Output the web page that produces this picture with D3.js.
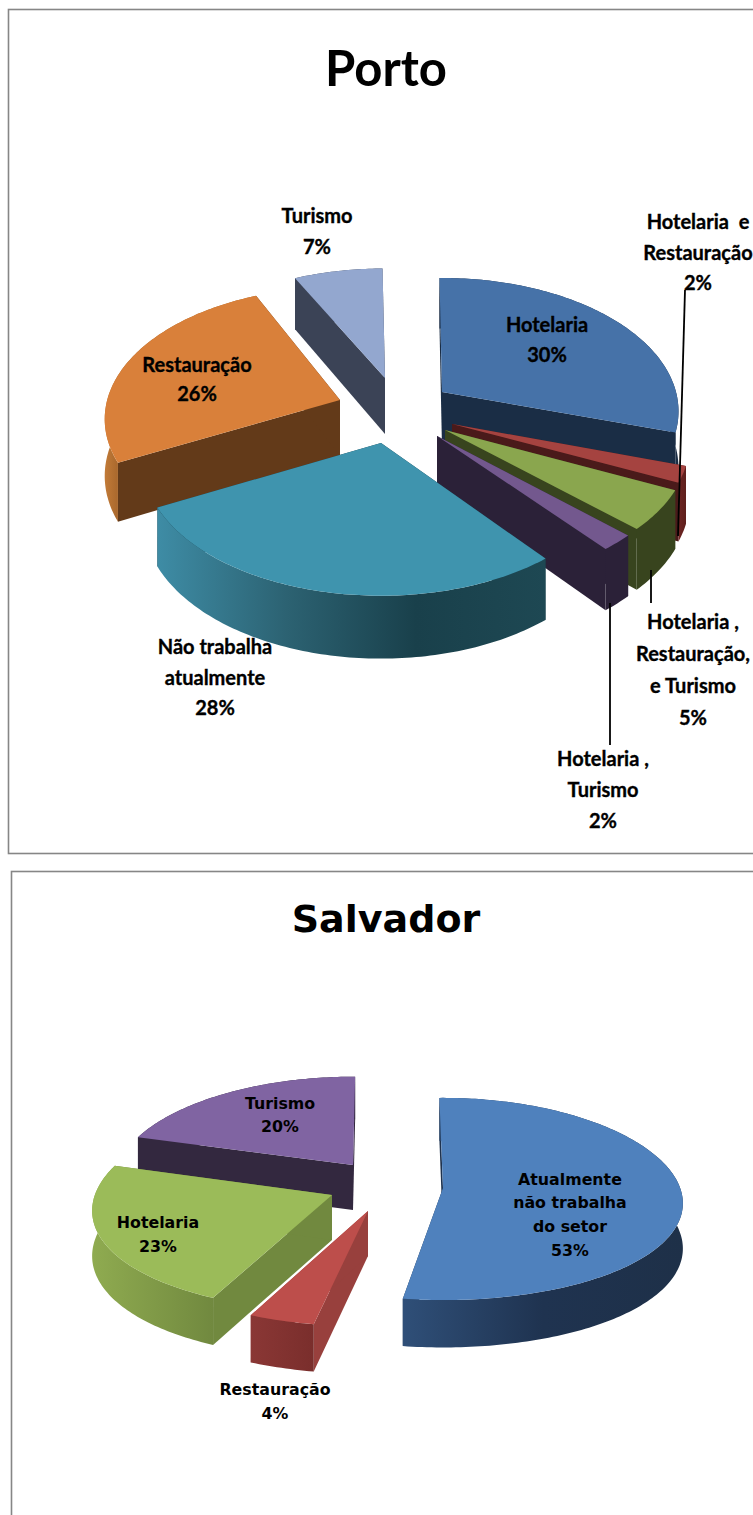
<!DOCTYPE html>
<html><head><meta charset="utf-8">
<script src="https://cdn.jsdelivr.net/npm/d3@7/dist/d3.min.js"></script>
<style>html,body{margin:0;padding:0;background:#fff}svg{display:block}</style>
</head><body>
<div id="chart"></div>
<script>
// ---- data ----
const portoCategories = ["Hotelaria","Hotelaria  e|Restauração","Hotelaria ,|Restauração,|e Turismo","Hotelaria ,|Turismo","Não trabalha|atualmente","Restauração","Turismo"];
const portoValues = [30,2,5,2,28,26,7];
const salvadorCategories = ["Atualmente|não trabalha|do setor","Restauração","Hotelaria","Turismo"];
const salvadorValues = [53,4,23,20];

// ---- layout / style (separate from data) ----
const deg = Math.PI/180;
const porto = {
  title:"Porto", titleX:386, titleY:86, titleSize:49, titleFont:"Lato, sans-serif",
  font:"Lato, sans-serif", size:20, weightStroke:.35, R:240, A:128, Bx:.145, By:.145, D:56, k:.11, rot:-0.7,
  cats:portoCategories, vals:portoValues,
  apex:[[442,392],[452,424],[445,430],[437,436],[381,443],[340,400],[385,378]],
  sx:[.975,.98,1,1,.98,.97,.97], sy:[1.02,1,1,1,1.02,1.01,.98],
  pad:[[0,0],[1,1],[1.6,1.6],[1.8,1.8],[2,2],[2.5,1.8],[0,0]],
  top:["#4672a8","#a54340","#8aa64e","#73588e","#3f94ae","#d9803a","#93a7cf"],
  face:["#1a2d45","#4a1a1a","#38441e","#2b2138","#1a3f4a","#633a19","#3b4356"],
  wall:[["#1a2d45","#1a2d45"],["#6e2523","#5e1f1c"],["#38441e","#38441e"],["#2b2138","#2b2138"],
        ["#3e8ca5","#2c6272","#19404b","#1e4853"],["#c27b38","#a9682d"],["#3b4356","#3b4356"]],
  order:[6,5,0,1,2,3,4],
  labelX:[547,698,693,603,215,197,317],
  labelY:[325,222,622,759,647,365,216], lineH:[30,30.5,32,31,30.5,29,31],
  leaders:[[[685,290],[678,536]],[[651,570],[651,603]],[[610,603],[610,745]]]
};
const salvador = {
  title:"Salvador", titleX:386, titleY:932, titleSize:38, titleFont:"'DejaVu Sans', sans-serif",
  font:"'DejaVu Sans', sans-serif", size:15.8, weightStroke:0, R:242, A:103, Bx:.15, By:.1085, D:45, k:.05, rot:-1,
  cats:salvadorCategories, vals:salvadorValues,
  apex:[[443,1188],[368,1211],[332,1195],[353,1165]],
  sx:[.98,1.02,.98,.97], sy:[.97,1,1,.95], pad:[[0,-1.5],[1,0],[1.5,0],[0,1.6]],
  top:["#4f81bd","#bd4e4b","#9bbb59","#8064a2"],
  face:["#1f334f","#98403d","#71893f","#33283f"],
  wall:[["#2f4f78","#1f3350","#1e3048"],["#8a3735","#7a2e2c"],["#8fab50","#71893f"],["#33283f","#33283f"]],
  order:[0,3,2,1],
  labelX:[570,275,158,280],
  labelY:[1179,1389,1222,1103], lineH:[23.7,24,24,23],
  leaders:[]
};

const svg = d3.select("#chart").append("svg").attr("width",753).attr("height",1515);
const defs = svg.append("defs");
const frames = [[8,9,800,844],[11,871,800,700]];
svg.selectAll("rect.frame").data(frames).join("rect").attr("class","frame")
  .attr("x",d=>d[0]+.5).attr("y",d=>d[1]+.5).attr("width",d=>d[2]).attr("height",d=>d[3])
  .attr("fill","#fff").attr("stroke","#868686").attr("stroke-width",1.6);

const line = d3.line();
function draw(cfg, id){
  const g = svg.append("g");
  const arcs = d3.pie().sort(null).value(d=>d)(cfg.vals);
  const proj = (i,theta,h) => {
    const s=Math.sin(theta), c=Math.cos(theta);
    const x = cfg.apex[i][0] + cfg.sx[i]*cfg.R*s/(1+cfg.Bx*c);
    const y = cfg.apex[i][1] - cfg.sy[i]*cfg.A*c/(1+cfg.By*c);
    return [x, y + (h? cfg.D/(1+cfg.k*c):0)];
  };
  const apex = (i,h)=>[cfg.apex[i][0], cfg.apex[i][1]+(h?cfg.D:0)];
  cfg.order.forEach(i=>{
    const a = arcs[i];
    const a0 = a.startAngle + (cfg.rot+cfg.pad[i][0])*deg, a1 = a.endAngle + (cfg.rot+cfg.pad[i][1])*deg;
    const n = Math.max(8,Math.ceil((a1-a0)/deg));
    const ts = d3.range(n+1).map(d3.scaleLinear().domain([0,n]).range([a0,a1]));
    const rimTop = ts.map(t=>proj(i,t,false)), rimBot = ts.map(t=>proj(i,t,true));
    const sl = g.append("g");
    [a0,a1].forEach(t=>{
      sl.append("path").attr("d",line([proj(i,t,false),apex(i,false),apex(i,true),proj(i,t,true)])+"Z")
        .attr("fill",cfg.face[i]);
    });
    const gid = id+"w"+i;
    const xs = d3.extent(rimTop.filter((p,j)=>Math.cos(ts[j])<0.1).map(p=>p[0]));
    const lg = defs.append("linearGradient").attr("id",gid).attr("gradientUnits","userSpaceOnUse")
      .attr("x1",xs[0]===undefined?0:xs[0]).attr("x2",xs[1]===undefined?1:xs[1]).attr("y1",0).attr("y2",0);
    cfg.wall[i].forEach((col,j,arr)=>lg.append("stop").attr("offset",j/(arr.length-1)).attr("stop-color",col));
    sl.append("path").attr("d",line(rimTop.concat(rimBot.slice().reverse()))+"Z").attr("fill",`url(#${gid})`);
    sl.append("path").attr("d",line([apex(i,false)].concat(rimTop))+"Z").attr("fill",cfg.top[i]);
  });
  g.selectAll("path.leader").data(cfg.leaders).join("path").attr("class","leader")
    .attr("d",d=>line(d)).attr("stroke","#000").attr("stroke-width",1.8).attr("fill","none");
  cfg.cats.forEach((name,i)=>{
    const lines = name.split("|").concat([cfg.vals[i]+"%"]);
    g.append("g").selectAll("text").data(lines).join("text")
      .attr("x",cfg.labelX[i]).attr("y",(d,j)=>cfg.labelY[i]+j*cfg.lineH[i]+cfg.size*.36)
      .attr("text-anchor","middle").attr("font-family",cfg.font).attr("font-weight",700)
      .attr("font-size",cfg.size).attr("fill","#000").attr("stroke","#000").attr("stroke-width",cfg.weightStroke)
      .style("white-space","pre").text(d=>d);
  });
  g.append("text").attr("x",cfg.titleX).attr("y",cfg.titleY).attr("text-anchor","middle")
    .attr("font-family",cfg.titleFont).attr("font-weight",700).attr("font-size",cfg.titleSize).attr("fill","#000").text(cfg.title);
}
draw(porto,"p");
draw(salvador,"s");
</script>
</body></html>
